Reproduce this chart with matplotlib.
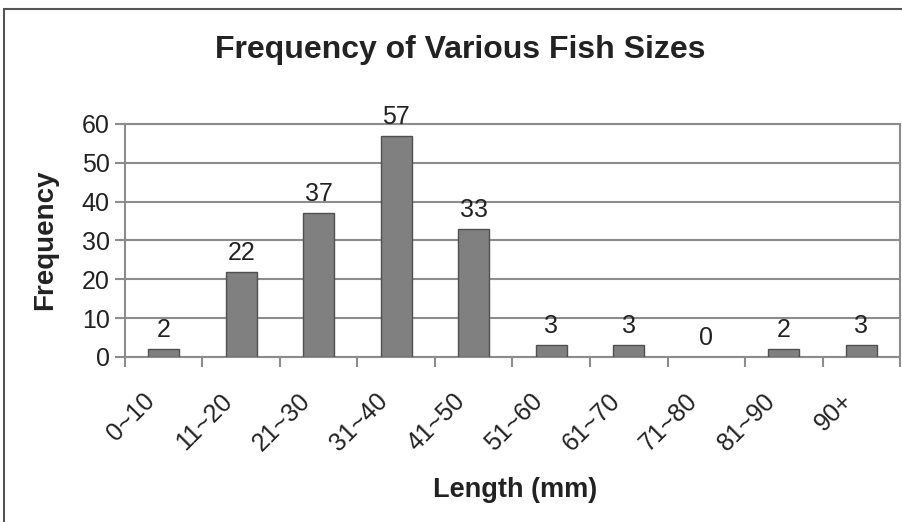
import matplotlib
matplotlib.use("Agg")
import matplotlib.pyplot as plt
from matplotlib.patches import Rectangle
from matplotlib.transforms import ScaledTranslation

# data
sizes = ["0~10", "11~20", "21~30", "31~40", "41~50",
         "51~60", "61~70", "71~80", "81~90", "90+"]
counts = [2, 22, 37, 57, 33, 3, 3, 0, 2, 3]
y_ticks = [0, 10, 20, 30, 40, 50, 60]

plt.rcParams['font.family'] = ['Liberation Sans', 'DejaVu Sans']

fig = plt.figure(figsize=(9.03, 5.22), dpi=100)
ax = fig.add_axes([0.1384, 0.3161, 0.8583, 0.4464])

grey = "#8c8c8c"
txt = "#222222"

x = list(range(len(sizes)))
edges = ["#505050" if c > 0 else "none" for c in counts]
ax.bar(x, counts, width=0.4, color="#808080", edgecolor=edges,
       linewidth=1.0, zorder=3)

for xi, c in zip(x, counts):
    ax.annotate(str(c), (xi, c), xytext=(0, 5), textcoords="offset points",
                ha="center", va="bottom", fontsize=18, color=txt)

ax.set_xlim(-0.5, len(sizes) - 0.5)
ax.set_ylim(0, 60)
ax.set_yticks(y_ticks)
ax.yaxis.grid(True, color=grey, linewidth=1.5, zorder=0)
ax.set_axisbelow(True)

# x ticks at category boundaries, labels at centres
ax.set_xticks([i - 0.5 for i in range(len(sizes) + 1)])
ax.set_xticklabels([])
ax.set_xticks(x, minor=True)
ax.set_xticklabels(sizes, minor=True, rotation=45, ha="right",
                   rotation_mode="anchor", fontsize=18, color=txt)
ax.tick_params(axis="x", which="minor", length=0, pad=18)
ax.tick_params(axis="x", which="major", length=7, width=1.5, color=grey)
ax.tick_params(axis="y", length=7, width=1.5, color=grey, labelsize=18,
               labelcolor=txt, pad=4)
shift = ScaledTranslation(-0.21, -0.07, fig.dpi_scale_trans)
for lab in ax.get_xticklabels(minor=True):
    lab.set_transform(lab.get_transform() + shift)

for s in ["left", "bottom", "right", "top"]:
    ax.spines[s].set_color(grey)
    ax.spines[s].set_linewidth(1.5)

ax.set_ylabel("Frequency", fontsize=20, fontweight="bold", color=txt)
ax.yaxis.set_label_coords(45 / 903, 1 - 240 / 522, transform=fig.transFigure)
ax.yaxis.label.set_va("center")

ax.set_xlabel("Length (mm)", fontsize=19.5, fontweight="bold", color=txt)
ax.xaxis.set_label_coords(515 / 903, 1 - 490 / 522, transform=fig.transFigure)
ax.xaxis.label.set_va("center")

fig.text(460 / 903, 1 - 50 / 522, "Frequency of Various Fish Sizes",
         ha="center", va="center", fontsize=23, fontweight="bold", color=txt)

# outer chart frame
fig.patches.append(Rectangle((4 / 903, -0.05), 1.2, 1.05 - 9 / 522,
                             transform=fig.transFigure, fill=False,
                             edgecolor="#555555", linewidth=1.5))

fig.savefig("out.png", dpi=100)
